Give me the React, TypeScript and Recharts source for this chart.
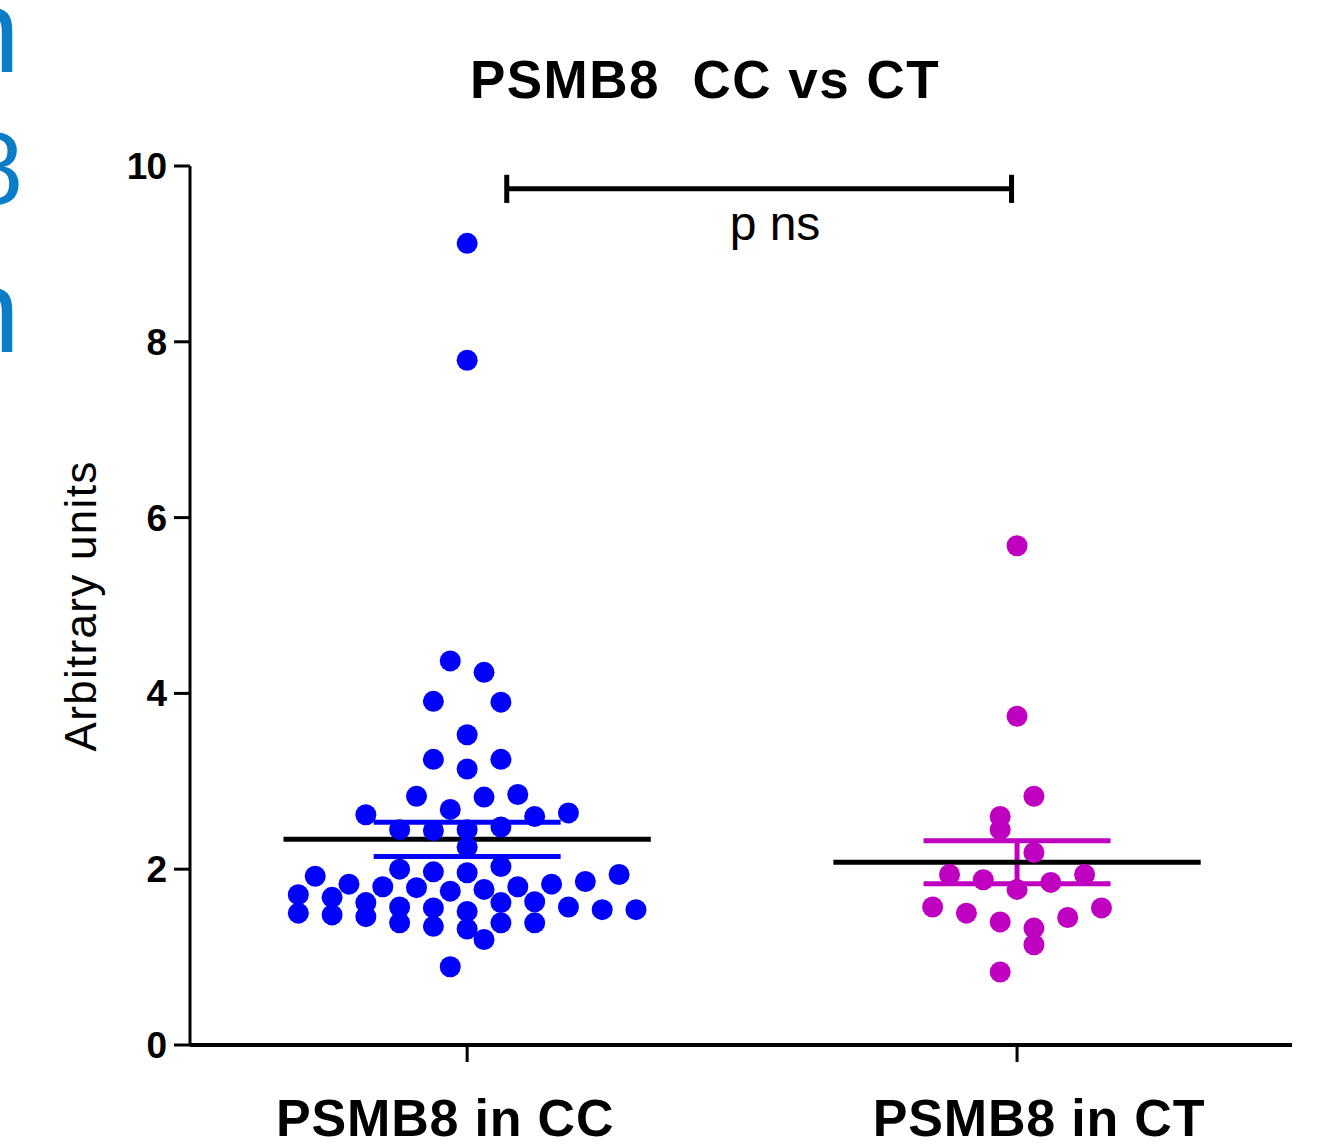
import React from 'react';
import { ScatterChart, Scatter, XAxis, YAxis, ReferenceLine } from 'recharts';

// group centres on the numeric x axis and their labels
const groupCenters = [1, 2];
const groupLabels = ['PSMB8 in CC', 'PSMB8 in CT'];
const yTicks = [0, 2, 4, 6, 8, 10];

// beeswarm points: [slot, value]; slot = sideways step from the group centre
const ccPoints: [number, number][] = [
    [0, 9.12], [0, 7.79],
    [-1, 4.37], [1, 4.24],
    [-2, 3.91], [2, 3.9],
    [0, 3.53],
    [-2, 3.25], [2, 3.25], [0, 3.14],
    [-3, 2.83], [1, 2.82], [3, 2.85],
    [-1, 2.68],
    [-6, 2.62], [4, 2.6], [6, 2.64],
    [-4, 2.45], [-2, 2.44], [0, 2.45], [2, 2.48],
    [0, 2.25], [2, 2.03],
    [-4, 2.0], [-2, 1.97], [0, 1.96], [-9, 1.92], [9, 1.94],
    [-7, 1.83], [-5, 1.8], [-3, 1.79], [-1, 1.75], [1, 1.77], [3, 1.8], [5, 1.83], [7, 1.86],
    [-10, 1.71], [-10, 1.5], [-8, 1.68], [-8, 1.48], [-6, 1.62], [-6, 1.46],
    [-4, 1.57], [-4, 1.39], [-2, 1.56], [-2, 1.35], [0, 1.52], [0, 1.32],
    [2, 1.62], [2, 1.39], [4, 1.63], [4, 1.39], [6, 1.57], [8, 1.54], [10, 1.54],
    [1, 1.2], [-1, 0.89],
];

const ctPoints: [number, number][] = [
    [0, 5.68], [0, 3.74], [1, 2.83], [-1, 2.6], [-1, 2.45], [1, 2.19],
    [-4, 1.94], [-2, 1.88], [0, 1.77], [2, 1.85], [4, 1.94],
    [-5, 1.57], [-3, 1.5], [-1, 1.4], [1, 1.33], [1, 1.14], [3, 1.45], [5, 1.56],
    [-1, 0.83],
];

// mean and SEM per group
const groupMeans = [2.34, 2.08];
const groupSems = [0.195, 0.245];

// significance bracket
const bracketFrom = 1.072;
const bracketTo = 1.99;
const bracketY = 9.74;
const bracketLabel = 'p ns';

const SLOT = 0.0307;
const MEAN_HALF = 0.334;
const SEM_HALF = 0.17;
const CAP_HALF = 0.16;

const colors = ['#0000ff', '#c000c0'];

const toData = (pts: [number, number][], center: number) =>
    pts.map(([s, v]) => ({ x: center + s * SLOT, y: v }));

const ccData = toData(ccPoints, groupCenters[0]);
const ctData = toData(ctPoints, groupCenters[1]);

const font = '"Liberation Sans", Arial, sans-serif';

const Dot = (color: string) => (p: any) => (
    <circle cx={p.cx} cy={p.cy} r={10.5} fill={color} />
);

const XTick = (props: any) => {
    const { x, y, payload, index } = props;
    const shift = index === 0 ? -22 : 22;
    return (
        <text x={x + shift} y={y + 72} textAnchor="middle" fontFamily={font}
            fontWeight="bold" fontSize={52} letterSpacing={0.8} fill="#000">
            {groupLabels[index] ?? payload.value}
        </text>
    );
};

const YTick = (props: any) => {
    const { x, y, payload } = props;
    return (
        <text x={x - 6} y={y + 13} textAnchor="end" fontFamily={font}
            fontWeight="bold" fontSize={37} fill="#000" letterSpacing={-1}>
            {payload.value}
        </text>
    );
};

const App: React.FC = () => {
    const segs: React.ReactNode[] = [];
    groupCenters.forEach((c, i) => {
        const m = groupMeans[i];
        const s = groupSems[i];
        segs.push(
            <ReferenceLine key={`sh${i}`} segment={[{ x: c - SEM_HALF, y: m + s }, { x: c + SEM_HALF, y: m + s }]}
                stroke={colors[i]} strokeWidth={5} ifOverflow="visible" />,
            <ReferenceLine key={`sl${i}`} segment={[{ x: c - SEM_HALF, y: m - s }, { x: c + SEM_HALF, y: m - s }]}
                stroke={colors[i]} strokeWidth={5} ifOverflow="visible" />,
            <ReferenceLine key={`sv${i}`} segment={[{ x: c, y: m - s }, { x: c, y: m + s }]}
                stroke={colors[i]} strokeWidth={5} ifOverflow="visible" />,
            <ReferenceLine key={`m${i}`} segment={[{ x: c - MEAN_HALF, y: m }, { x: c + MEAN_HALF, y: m }]}
                stroke="#000" strokeWidth={5} ifOverflow="visible" />
        );
    });

    return (
        <div style={{ position: 'absolute', left: 0, top: 0, width: 1323, height: 1145, background: '#fff', overflow: 'hidden' }}>
            {/* edge of the neighbouring panel, cut off in the source figure */}
            <svg width={60} height={400} style={{ position: 'absolute', left: 0, top: 0 }}>
                <text x={20} y={72} textAnchor="end" fontFamily={font} fontSize={118} fill="#0a7cc8">n</text>
                <text x={23} y={204} textAnchor="end" fontFamily={font} fontSize={102} fill="#0a7cc8">8</text>
                <text x={20} y={352} textAnchor="end" fontFamily={font} fontSize={118} fill="#0a7cc8">n</text>
            </svg>
            <ScatterChart width={1323} height={1145} margin={{ top: 166, right: 31, bottom: 0, left: 0 }}
                style={{ position: 'absolute', left: 0, top: 0 }}>
                <XAxis type="number" dataKey="x" domain={[0.496, 2.5]} ticks={groupCenters}
                    allowDataOverflow height={100} tickSize={17} tick={<XTick />}
                    axisLine={{ stroke: '#000', strokeWidth: 4 }} tickLine={{ stroke: '#000', strokeWidth: 3 }} />
                <YAxis type="number" dataKey="y" domain={[0, 10]} ticks={yTicks} width={190}
                    tickSize={16} tick={<YTick />}
                    axisLine={{ stroke: '#000', strokeWidth: 3 }} tickLine={{ stroke: '#000', strokeWidth: 3 }} />
                <Scatter data={ccData} fill={colors[0]} shape={Dot(colors[0])} isAnimationActive={false} />
                <Scatter data={ctData} fill={colors[1]} shape={Dot(colors[1])} isAnimationActive={false} />
                {segs}
                <ReferenceLine segment={[{ x: bracketFrom, y: bracketY }, { x: bracketTo, y: bracketY }]}
                    stroke="#000" strokeWidth={5} ifOverflow="visible" />
                <ReferenceLine segment={[{ x: bracketFrom, y: bracketY - CAP_HALF }, { x: bracketFrom, y: bracketY + CAP_HALF }]}
                    stroke="#000" strokeWidth={5} ifOverflow="visible" />
                <ReferenceLine segment={[{ x: bracketTo, y: bracketY - CAP_HALF }, { x: bracketTo, y: bracketY + CAP_HALF }]}
                    stroke="#000" strokeWidth={5} ifOverflow="visible" />
                <text x={775} y={240} textAnchor="middle" fontFamily={font} fontSize={48} fill="#000">{bracketLabel}</text>
                <text x={705} y={98} textAnchor="middle" fontFamily={font} fontWeight="bold" fontSize={53}
                    letterSpacing={1.5} style={{ whiteSpace: 'pre' }} fill="#000">PSMB8  CC vs CT</text>
                <text x={96} y={606} transform="rotate(-90 96 606)" textAnchor="middle" fontFamily={font}
                    fontSize={44} letterSpacing={1.3} fill="#000">Arbitrary units</text>
            </ScatterChart>
        </div>
    );
};

export default App;
